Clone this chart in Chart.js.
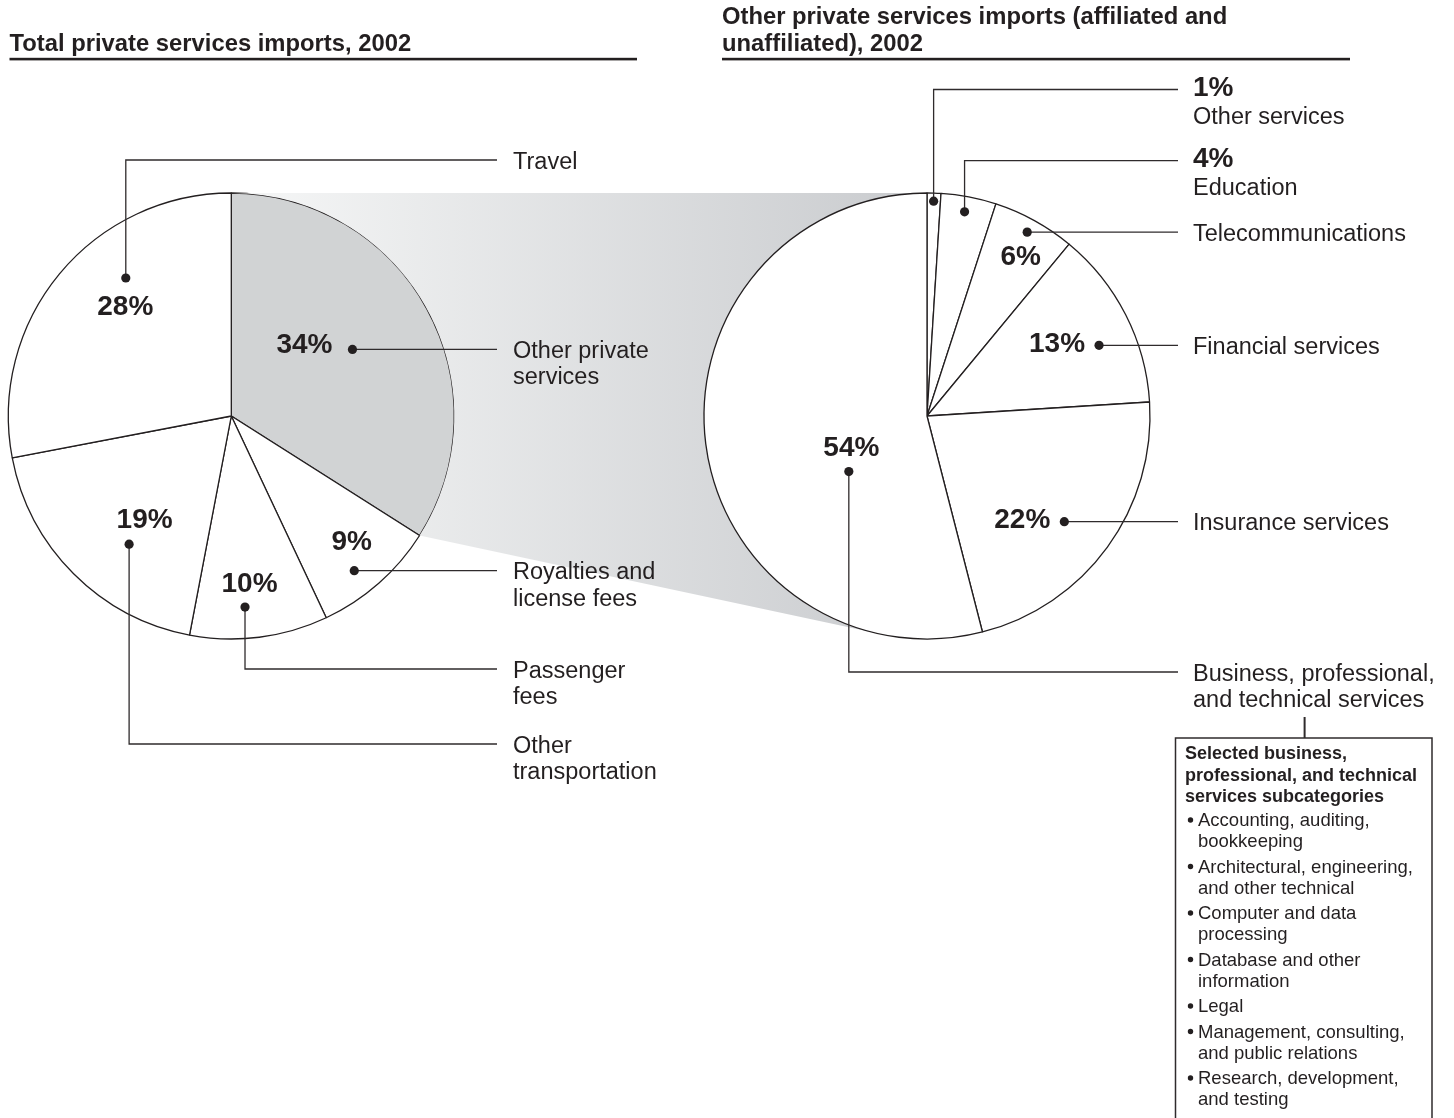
<!DOCTYPE html>
<html>
<head>
<meta charset="utf-8">
<title>Private services imports, 2002</title>
<script src="https://cdn.jsdelivr.net/npm/chart.js@4.4.1/dist/chart.umd.min.js"></script>
<style>
  html, body { margin: 0; padding: 0; background: #fff; }
  #stage { position: relative; width: 1454px; height: 1118px; overflow: hidden; }
  #stage canvas { position: absolute; left: 0; top: 0; }
</style>
</head>
<body>
<div id="stage">
  <canvas id="totalPie" width="1454" height="1118"></canvas>
  <canvas id="otherPie" width="1454" height="1118"></canvas>
</div>
<script>
// Total private services imports, 2002 (percent), clockwise from 12 o'clock
const totalLabels = [['Other private', 'services'], ['Royalties and', 'license fees'], ['Passenger', 'fees'], ['Other', 'transportation'], ['Travel']];
const totalShares = [34, 9, 10, 19, 28];

// Other private services imports (affiliated and unaffiliated), 2002 (percent)
const otherLabels = [['Other services'], ['Education'], ['Telecommunications'], ['Financial services'], ['Insurance services'], ['Business, professional,', 'and technical services']];
const otherShares = [1, 4, 6, 13, 22, 54];

const subTitle = ['Selected business,', 'professional, and technical', 'services subcategories'];
const subItems = [
  ['Accounting, auditing,', 'bookkeeping'],
  ['Architectural, engineering,', 'and other technical'],
  ['Computer and data', 'processing'],
  ['Database and other', 'information'],
  ['Legal'],
  ['Management, consulting,', 'and public relations'],
  ['Research, development,', 'and testing']
];

const W = 1454, H = 1118;
const INK = '#231f20';
const FONT = '"Liberation Sans", Arial, Helvetica, sans-serif';
const R = 223;

// callout placement: t = position across the slice, f = share of the radius
const totalCallouts = [
  { t: 0.50, f: 0.62, pct: { align: 'right', dx: -20, dy: 3.5 } },
  { t: 0.59, f: 0.886, pct: { align: 'center', dx: -2.5, dy: -21 } },
  { t: 0.586, f: 0.859, elbowY: 669, pct: { align: 'center', dx: 4.5, dy: -15 } },
  { t: 0.406, f: 0.735, elbowY: 744, pct: { align: 'center', dx: 15.5, dy: -16 } },
  { t: 0.629, f: 0.779, elbowY: 160, pct: { align: 'center', dx: -0.5, dy: 37 } }
];
const otherCallouts = [
  { t: 0.49, f: 0.964, elbowY: 89.5, stack: true },
  { t: 0.474, f: 0.931, elbowY: 160.7, stack: true },
  { t: 0.49, f: 0.939, pct: { align: 'center', dx: -6.5, dy: 33 } },
  { t: 0.60, f: 0.834, pct: { align: 'right', dx: -14, dy: 6.5 } },
  { t: 0.52, f: 0.777, pct: { align: 'right', dx: -14, dy: 6 } },
  { t: 0.355, f: 0.43, elbowY: 672, pct: { align: 'center', dx: 2.5, dy: -15.5 } }
];

function pieOptions(cx, cy) {
  return {
    responsive: false,
    animation: false,
    events: [],
    layout: { padding: { left: cx - R - 2, top: cy - R - 2, right: W - cx - R - 2, bottom: H - cy - R - 2 } },
    plugins: { legend: { display: false }, tooltip: { enabled: false } }
  };
}

const totalChart = new Chart(document.getElementById('totalPie'), {
  type: 'pie',
  data: {
    labels: totalLabels,
    datasets: [{
      data: totalShares,
      backgroundColor: totalShares.map((v, i) => i === 0 ? '#d1d3d4' : '#ffffff'),
      borderColor: INK,
      borderWidth: 1.3,
      radius: R
    }]
  },
  options: pieOptions(231.3, 416)
});

function arcPoint(arc, t, f) {
  const a = arc.startAngle + (arc.endAngle - arc.startAngle) * t;
  return { x: arc.x + Math.cos(a) * arc.outerRadius * f, y: arc.y + Math.sin(a) * arc.outerRadius * f };
}

// shaded band joining the grey slice to the breakdown pie
function drawBand(ctx, chart) {
  const g = totalChart.getDatasetMeta(0).data[0];
  const o = chart.getDatasetMeta(0).data[0];
  const s = { x: g.x + Math.cos(g.startAngle) * g.outerRadius, y: g.y + Math.sin(g.startAngle) * g.outerRadius };
  const e = { x: g.x + Math.cos(g.endAngle) * g.outerRadius, y: g.y + Math.sin(g.endAngle) * g.outerRadius };
  const dx = o.x - e.x, dy = o.y - e.y;
  const d = Math.hypot(dx, dy);
  const dir = Math.atan2(dy, dx) + Math.asin(o.outerRadius / d);
  const len = Math.sqrt(d * d - o.outerRadius * o.outerRadius);
  const tp = { x: e.x + Math.cos(dir) * len, y: e.y + Math.sin(dir) * len };

  const grad = ctx.createLinearGradient(s.x, 0, o.x, 0);
  grad.addColorStop(0, '#f6f7f7');
  grad.addColorStop(1, '#c9cbce');
  ctx.save();
  ctx.beginPath();
  ctx.moveTo(s.x, s.y);
  ctx.lineTo(o.x, o.y - o.outerRadius);
  ctx.lineTo(o.x, o.y);
  ctx.lineTo(tp.x, tp.y);
  ctx.lineTo(e.x, e.y);
  ctx.arc(g.x, g.y, g.outerRadius, g.endAngle, g.startAngle, true);
  ctx.closePath();
  ctx.fillStyle = grad;
  ctx.fill();
  ctx.restore();
}

function drawCallouts(ctx, chart, shares, layout, col) {
  const arcs = chart.getDatasetMeta(0).data;
  const out = [];
  arcs.forEach((arc, i) => {
    const c = layout[i];
    const dot = arcPoint(arc, c.t, c.f);
    const lineY = c.elbowY != null ? c.elbowY : dot.y;

    ctx.strokeStyle = '#2f2b2c';
    ctx.lineWidth = 1.3;
    ctx.beginPath();
    ctx.moveTo(dot.x, dot.y);
    if (c.elbowY != null) ctx.lineTo(dot.x, lineY);
    ctx.lineTo(col.lineEnd, lineY);
    ctx.stroke();

    ctx.fillStyle = INK;
    ctx.beginPath();
    ctx.arc(dot.x, dot.y, 4.6, 0, Math.PI * 2);
    ctx.fill();

    const pct = shares[i] + '%';
    const name = [].concat(chart.data.labels[i]);
    ctx.textBaseline = 'alphabetic';
    let y;
    ctx.font = 'bold 28px ' + FONT;
    if (c.stack) {
      ctx.textAlign = 'left';
      ctx.fillText(pct, col.textX, lineY + 6.5);
      y = lineY + 34;
    } else {
      ctx.textAlign = c.pct.align;
      ctx.fillText(pct, dot.x + c.pct.dx, dot.y + c.pct.dy);
      y = lineY + 8.5;
    }
    ctx.font = '23.5px ' + FONT;
    ctx.textAlign = 'left';
    name.forEach((line, k) => ctx.fillText(line, col.textX, y + k * 26.5));
    out.push({ name, x: col.textX, y, lines: name.length });
  });
  return out;
}

function drawSubcategories(ctx, anchor) {
  ctx.font = '23.5px ' + FONT;
  const lastLine = anchor.name[anchor.lines - 1];
  const tickX = anchor.x + ctx.measureText(lastLine).width / 2 - 4;
  const boxTop = 738, boxLeft = 1175.5, boxRight = 1432;

  ctx.strokeStyle = '#2f2b2c';
  ctx.lineWidth = 2;
  ctx.beginPath();
  ctx.moveTo(tickX, 717);
  ctx.lineTo(tickX, boxTop);
  ctx.stroke();

  ctx.lineWidth = 1.5;
  ctx.beginPath();
  ctx.moveTo(boxLeft, H + 5);
  ctx.lineTo(boxLeft, boxTop);
  ctx.lineTo(boxRight, boxTop);
  ctx.lineTo(boxRight, H + 5);
  ctx.stroke();

  ctx.fillStyle = INK;
  ctx.textAlign = 'left';
  ctx.font = 'bold 18px ' + FONT;
  let y = 759;
  subTitle.forEach((line) => { ctx.fillText(line, 1185, y); y += 21.5; });

  ctx.font = '18.5px ' + FONT;
  y = 826;
  subItems.forEach((item) => {
    ctx.beginPath();
    ctx.arc(1190.5, y - 6, 2.7, 0, Math.PI * 2);
    ctx.fill();
    item.forEach((line, k) => {
      ctx.fillText(line, 1198, y);
      if (k < item.length - 1) y += 21;
    });
    y += 25.5;
  });
}

const annotations = {
  id: 'annotations',
  beforeDatasetsDraw(chart) {
    drawBand(chart.ctx, chart);
  },
  afterDraw(chart) {
    const ctx = chart.ctx;
    ctx.save();
    ctx.fillStyle = INK;
    ctx.textAlign = 'left';
    ctx.textBaseline = 'alphabetic';
    ctx.font = 'bold 23.8px ' + FONT;
    ctx.fillText('Total private services imports, 2002', 9.5, 51);
    ctx.fillText('Other private services imports (affiliated and', 722, 24);
    ctx.fillText('unaffiliated), 2002', 722, 51);
    ctx.fillRect(9.5, 57.8, 627.5, 2.6);
    ctx.fillRect(722, 57.8, 628, 2.6);

    drawCallouts(ctx, totalChart, totalShares, totalCallouts, { lineEnd: 497, textX: 513 });
    const right = drawCallouts(ctx, chart, otherShares, otherCallouts, { lineEnd: 1178, textX: 1193 });
    drawSubcategories(ctx, right[right.length - 1]);
    ctx.restore();
  }
};

new Chart(document.getElementById('otherPie'), {
  type: 'pie',
  data: {
    labels: otherLabels,
    datasets: [{
      data: otherShares,
      backgroundColor: '#ffffff',
      borderColor: INK,
      borderWidth: 1.3,
      radius: R
    }]
  },
  options: pieOptions(927, 416),
  plugins: [annotations]
});
</script>
</body>
</html>
